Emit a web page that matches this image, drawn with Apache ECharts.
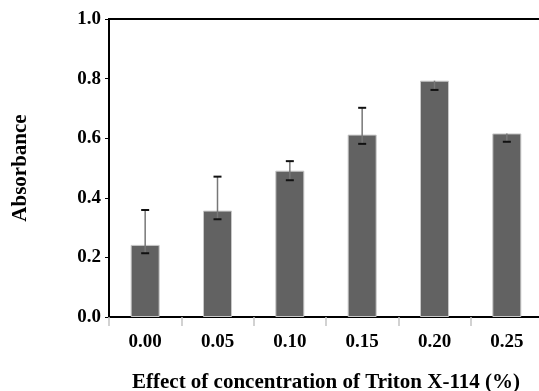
<!DOCTYPE html>
<html>
<head>
<meta charset="utf-8">
<script src="https://cdn.jsdelivr.net/npm/echarts@6/dist/echarts.min.js"></script>
<style>
  html, body { margin: 0; padding: 0; background: #fff; }
  #chart { width: 539px; height: 391px; }
</style>
</head>
<body>
<div id="chart"></div>
<script>
// concentration of Triton X-114 (%)
var categories = ['0.00', '0.05', '0.10', '0.15', '0.20', '0.25']
// mean absorbance
var absorbance = [0.242, 0.357, 0.491, 0.612, 0.793, 0.616]
// error bar ends (not symmetric)
var errLow = [0.214, 0.328, 0.459, 0.581, 0.762, 0.588]
var errHigh = [0.359, 0.471, 0.523, 0.702, 0.793, 0.616]
var yTicks = [0, 0.2, 0.4, 0.6, 0.8, 1.0]

var font = '"Liberation Serif", "Times New Roman", serif'

var chart = echarts.init(document.getElementById('chart'), null, { renderer: 'canvas' })

var errData = categories.map(function (c, i) {
  return [i, errLow[i], errHigh[i], absorbance[i]]
})

chart.setOption({
  animation: false,
  grid: {
    left: 109,
    top: 19,
    width: 434,
    bottom: 74,
    show: true,
    borderColor: '#000',
    borderWidth: 2,
    outerBoundsMode: 'none'
  },
  xAxis: {
    type: 'category',
    data: categories,
    name: 'Effect of concentration of Triton X-114 (%)',
    nameLocation: 'middle',
    nameGap: 55,
    nameTextStyle: { fontFamily: font, fontWeight: 'bold', fontSize: 21, color: '#000' },
    axisLine: { lineStyle: { color: '#000', width: 2 } },
    axisTick: { show: true, length: 9, lineStyle: { color: '#c4c4c4', width: 1.5 } },
    axisLabel: { margin: 16, fontFamily: font, fontWeight: 'bold', fontSize: 19, color: '#000' },
    splitLine: { show: false }
  },
  yAxis: {
    type: 'value',
    min: 0,
    max: 1,
    interval: 0.2,
    name: 'Absorbance',
    nameLocation: 'middle',
    nameGap: 78,
    nameTextStyle: { fontFamily: font, fontWeight: 'bold', fontSize: 21, color: '#000' },
    axisLine: { show: true, lineStyle: { color: '#000', width: 2 } },
    axisTick: { show: true, length: 4, lineStyle: { color: '#000', width: 1 } },
    axisLabel: {
      margin: 8,
      fontFamily: font,
      fontWeight: 'bold',
      fontSize: 19,
      color: '#000',
      formatter: function (v) {
        return yTicks.indexOf(v) >= 0 ? v.toFixed(1) : ''
      }
    },
    splitLine: { show: false }
  },
  series: [
    {
      type: 'bar',
      data: absorbance,
      barWidth: 29,
      itemStyle: { color: '#626262', borderColor: '#c8c8c8', borderWidth: 1 },
      z: 2
    },
    {
      type: 'custom',
      data: errData,
      z: 3,
      renderItem: function (params, api) {
        var x = api.value(0)
        var lo = api.coord([x, api.value(1)])
        var hi = api.coord([x, api.value(2)])
        var cw = 4
        var children = [
          {
            type: 'line',
            shape: { x1: hi[0], y1: hi[1], x2: lo[0], y2: lo[1] },
            style: { stroke: '#777', lineWidth: 1.5 }
          },
          {
            type: 'line',
            shape: { x1: lo[0] - cw, y1: lo[1], x2: lo[0] + cw, y2: lo[1] },
            style: { stroke: '#111', lineWidth: 2 }
          }
        ]
        // upper cap only where it sits above the bar
        if (api.value(2) - api.value(3) > 0.005) {
          children.push({
            type: 'line',
            shape: { x1: hi[0] - cw, y1: hi[1], x2: hi[0] + cw, y2: hi[1] },
            style: { stroke: '#111', lineWidth: 2 }
          })
        }
        return { type: 'group', children: children }
      }
    }
  ]
})
</script>
</body>
</html>
